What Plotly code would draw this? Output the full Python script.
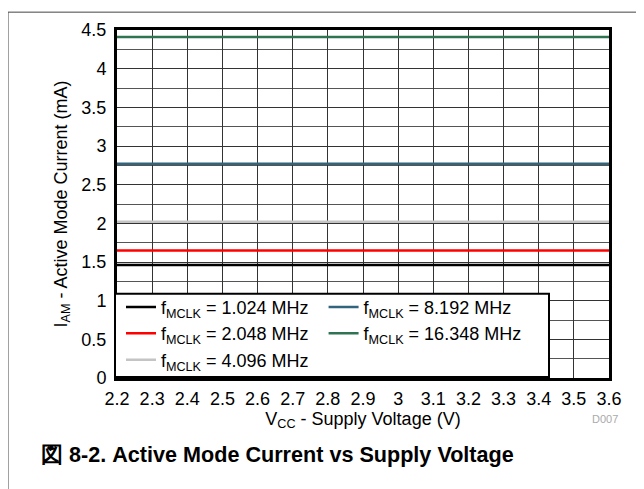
import plotly.graph_objects as go

voltage = [2.2, 2.3, 2.4, 2.5, 2.6, 2.7, 2.8, 2.9, 3.0, 3.1, 3.2, 3.3, 3.4, 3.5, 3.6]
i_1024 = [1.46] * 15
i_2048 = [1.65] * 15
i_4096 = [2.02] * 15
i_8192 = [2.77] * 15
i_16348 = [4.41] * 15

series_names = [
    "f<sub>MCLK</sub> = 1.024 MHz",
    "f<sub>MCLK</sub> = 2.048 MHz",
    "f<sub>MCLK</sub> = 4.096 MHz",
    "f<sub>MCLK</sub> = 8.192 MHz",
    "f<sub>MCLK</sub> = 16.348 MHz",
]
series_values = [i_1024, i_2048, i_4096, i_8192, i_16348]
series_colors = ["#000000", "#ff0000", "#c4c4c4", "#33647e", "#2f7352"]
legend_ranks = [1, 3, 5, 2, 4]

x_ticks = [2.2, 2.3, 2.4, 2.5, 2.6, 2.7, 2.8, 2.9, 3.0, 3.1, 3.2, 3.3, 3.4, 3.5, 3.6]
x_ticktext = ["2.2", "2.3", "2.4", "2.5", "2.6", "2.7", "2.8", "2.9", "3", "3.1", "3.2", "3.3", "3.4", "3.5", "3.6"]
y_ticks = [0, 0.5, 1, 1.5, 2, 2.5, 3, 3.5, 4, 4.5]
y_ticktext = ["0", "0.5", "1", "1.5", "2", "2.5", "3", "3.5", "4", "4.5"]

FONT = "Liberation Sans, Arial, sans-serif"

# page body has an 8px margin, so figure coords = page coords - 8
L, T, W, H = 109, 19, 492, 351


def px(xf):
    return (xf - L) / W


def py(yf):
    return (T + H - yf) / H


fig = go.Figure()
for name, vals, col, rk in zip(series_names, series_values, series_colors, legend_ranks):
    fig.add_trace(go.Scatter(x=voltage, y=vals, mode="lines", name=name,
                             line=dict(color=col, width=2.5), legendrank=rk))

fig.update_layout(
    width=644, height=489,
    margin=dict(l=L, r=644 - L - W, t=T, b=489 - T - H),
    paper_bgcolor="white", plot_bgcolor="white",
    font=dict(family=FONT, size=16, color="#000"),
    showlegend=True,
    legend=dict(
        orientation="h", x=px(113), y=py(280),
        xanchor="left", yanchor="top",
        bgcolor="rgba(0,0,0,0)", borderwidth=0,
        font=dict(family=FONT, size=18, color="#000"),
        tracegroupgap=0, itemwidth=30,
    ),
    xaxis=dict(
        range=[2.2, 3.6], tickvals=x_ticks, ticktext=x_ticktext,
        showgrid=True, gridcolor="#333", gridwidth=1,
        showline=True, linecolor="#000", linewidth=3, mirror=True,
        ticks="", zeroline=False, ticklabelstandoff=2,
        title=dict(text="V<sub>CC</sub> - Supply Voltage (V)", standoff=1,
                   font=dict(family=FONT, size=18)),
        tickfont=dict(family=FONT, size=18),
    ),
    yaxis=dict(
        range=[0, 4.5], tickvals=y_ticks, ticktext=y_ticktext,
        showgrid=True, gridcolor="#333", gridwidth=1,
        minor=dict(dtick=0.25, tick0=0, showgrid=True, gridcolor="#555", gridwidth=1),
        showline=True, linecolor="#000", linewidth=3, mirror=True,
        ticks="", zeroline=False, ticklabelstandoff=4,
        title=dict(text="I<sub>AM</sub> - Active Mode Current (mA)", standoff=10,
                   font=dict(family=FONT, size=18)),
        tickfont=dict(family=FONT, size=18),
    ),
)

# legend frame (page coords 115..549 x 293..377)
fig.add_shape(type="rect", xref="paper", yref="paper",
              x0=px(107), x1=px(541), y0=py(369), y1=py(285),
              line=dict(color="#000", width=2), fillcolor="white", layer="above")

fig.add_annotation(text="D007", xref="paper", yref="paper",
                   x=px(612), y=py(419),
                   showarrow=False, font=dict(family=FONT, size=11, color="#aaaaaa"))
fig.add_annotation(text="<b>図 8-2. Active Mode Current vs Supply Voltage</b>",
                   xref="paper", yref="paper", x=px(269.5), y=py(447),
                   showarrow=False, xanchor="center", yanchor="middle",
                   font=dict(family=FONT, size=21.6, color="#000"))
fig.add_shape(type="rect", xref="paper", yref="paper",
              x0=px(0), x1=px(660), y0=py(520), y1=py(1),
              line=dict(color="#444", width=1), layer="below")

fig.write_html("out.html")
